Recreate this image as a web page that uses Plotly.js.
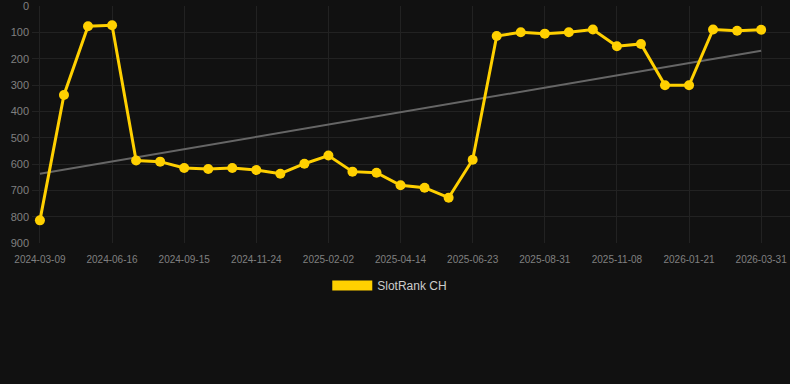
<!DOCTYPE html>
<html>
<head>
<meta charset="utf-8">
<script src="https://cdn.plot.ly/plotly-3.0.1.min.js"></script>
<style>
html,body{margin:0;padding:0;background:#111111;}
#chart{width:790px;height:384px;}
</style>
</head>
<body>
<div id="chart"></div>
<script>
const dates = [
  "2024-03-09","2024-04-11","2024-05-14","2024-06-16","2024-07-16","2024-08-15",
  "2024-09-15","2024-10-08","2024-10-31","2024-11-24","2024-12-17","2025-01-09",
  "2025-02-02","2025-02-25","2025-03-20","2025-04-14","2025-05-07","2025-05-30",
  "2025-06-23","2025-07-16","2025-08-08","2025-08-31","2025-09-23","2025-10-16",
  "2025-11-08","2025-12-02","2025-12-26","2026-01-21","2026-02-13","2026-03-08",
  "2026-03-31"
];
const ranks = [
  814, 338, 77, 73, 587, 591,
  615, 619, 615, 623, 637, 599,
  568, 629, 633, 681, 690, 728,
  584, 114, 100, 105, 100, 89,
  153, 144, 301, 301, 89, 94,
  90
];
const trendDates = ["2024-03-09", "2026-03-31"];
const trendValues = [637, 170];
const tickDates = ["2024-03-09","2024-06-16","2024-09-15","2024-11-24","2025-02-02","2025-04-14",
  "2025-06-23","2025-08-31","2025-11-08","2026-01-21","2026-03-31"];
const yTicks = [0,100,200,300,400,500,600,700,800,900];
const seriesName = "SlotRank CH";

const gold = "#FFD000";
const traces = [
  {
    x: trendDates, y: trendValues, type: "scatter", mode: "lines",
    line: {color: "#666666", width: 2}, showlegend: false, hoverinfo: "skip"
  },
  {
    x: dates, y: ranks, type: "scatter", mode: "lines+markers",
    line: {color: gold, width: 3}, marker: {color: gold, size: 10},
    showlegend: false, name: seriesName
  },
  {
    x: [null], y: [null], type: "scatter", mode: "lines",
    line: {color: gold, width: 11}, name: seriesName, showlegend: true
  }
];

const layout = {
  width: 790, height: 384,
  paper_bgcolor: "#111111", plot_bgcolor: "#111111",
  margin: {l: 32, r: 0, t: 6, b: 141},
  showlegend: true,
  legend: {
    orientation: "h", x: 0.472, xanchor: "center", y: -0.118, yanchor: "top",
    font: {family: "Arial, Liberation Sans, sans-serif", size: 12, color: "#cccccc"},
    itemwidth: 40, bgcolor: "rgba(0,0,0,0)"
  },
  xaxis: {
    type: "category", categoryorder: "array", categoryarray: dates,
    range: [-0.33, 31.2],
    tickmode: "array", tickvals: tickDates, ticktext: tickDates,
    showgrid: true, gridcolor: "#222222", gridwidth: 1,
    zeroline: false, showline: false,
    ticks: "", tickfont: {family: "Arial, Liberation Sans, sans-serif", size: 10, color: "#808080"},
    tickangle: 0, ticklabelstandoff: 9
  },
  yaxis: {
    range: [900, 0], autorange: false,
    tickmode: "array", tickvals: yTicks,
    showgrid: true, gridcolor: "#222222", gridwidth: 1,
    zeroline: false, showline: false, ticks: "",
    tickfont: {family: "Arial, Liberation Sans, sans-serif", size: 11, color: "#808080"},
    ticklabelstandoff: 2, ticklabeloverflow: "allow"
  }
};
Plotly.newPlot("chart", traces, layout, {displayModeBar: false, staticPlot: true});
</script>
</body>
</html>
